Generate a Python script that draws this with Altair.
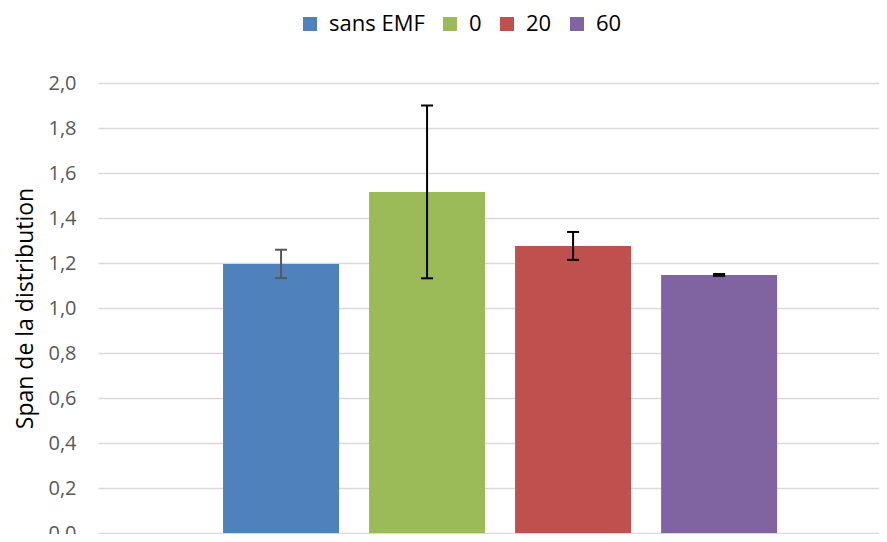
import altair as alt
import pandas as pd

series = ["sans EMF", "0", "20", "60"]
values = [1.196, 1.516, 1.276, 1.147]
errors = [0.063, 0.384, 0.062, 0.004]
bar_colors = ["#4F81BD", "#9BBB59", "#C0504D", "#8064A2"]
err_colors = ["#595959", "#000000", "#000000", "#000000"]
y_ticks = [0, 0.2, 0.4, 0.6, 0.8, 1.0, 1.2, 1.4, 1.6, 1.8, 2.0]

df = pd.DataFrame({
    "series": series,
    "value": values,
    "lo": [v - e for v, e in zip(values, errors)],
    "hi": [v + e for v, e in zip(values, errors)],
    "ecol": err_colors,
})

FONT = "Open Sans"

xscale = alt.Scale(domain=series, paddingInner=0.2055, paddingOuter=0.777, align=0.551)
x = alt.X("series:N", scale=xscale, axis=None, sort=series)
yscale = alt.Scale(domain=[0, 2.0], nice=False, zero=True)

bars = alt.Chart(df).mark_bar(opacity=1).encode(
    x=x,
    y=alt.Y(
        "value:Q",
        scale=yscale,
        axis=alt.Axis(
            values=y_ticks,
            format=".1f",
            labelExpr="replace(format(datum.value, '.1f'), '.', ',')",
            title="Span de la distribution",
            grid=True,
            gridColor="#D9D9D9",
            gridWidth=1.3,
            domain=False,
            ticks=False,
            labelPadding=22,
            labelFont=FONT,
            labelFontSize=20,
            labelColor="#595959",
            titleFont=FONT,
            titleFontSize=23,
            titleFontWeight="normal",
            titleColor="#000000",
            titlePadding=10,
        ),
    ),
    color=alt.Color(
        "series:N",
        scale=alt.Scale(domain=series, range=bar_colors),
        sort=series,
        legend=alt.Legend(
            title=None,
            orient="none",
            direction="horizontal",
            legendX=201,
            legendY=-70,
            symbolType="square",
            symbolSize=196,
            symbolStrokeWidth=0,
            symbolOpacity=1,
            labelFont=FONT,
            labelFontSize=22,
            labelColor="#000000",
            columnPadding=14,
            gridAlign="none",
            symbolOffset=0,
            labelOffset=8,
            labelLimit=300,
        ),
    ),
)

rules = alt.Chart(df).mark_rule(strokeWidth=2, opacity=1).encode(
    x=x,
    y=alt.Y("lo:Q", scale=yscale),
    y2="hi:Q",
    color=alt.Color("ecol:N", scale=None),
)
caps_hi = alt.Chart(df).mark_tick(size=12, thickness=2, opacity=1).encode(
    x=x,
    y=alt.Y("hi:Q", scale=yscale),
    color=alt.Color("ecol:N", scale=None),
)
caps_lo = alt.Chart(df).mark_tick(size=12, thickness=2, opacity=1).encode(
    x=x,
    y=alt.Y("lo:Q", scale=yscale),
    color=alt.Color("ecol:N", scale=None),
)

chart = alt.layer(bars, rules, caps_hi, caps_lo).properties(
    width=781,
    height=450,
    autosize=alt.AutoSizeParams(type="none"),
    padding={"left": 90, "top": 75, "right": 0, "bottom": 1},
).configure_view(stroke=None)

chart.save("out.html", embed_options={"renderer": "svg", "actions": False})
